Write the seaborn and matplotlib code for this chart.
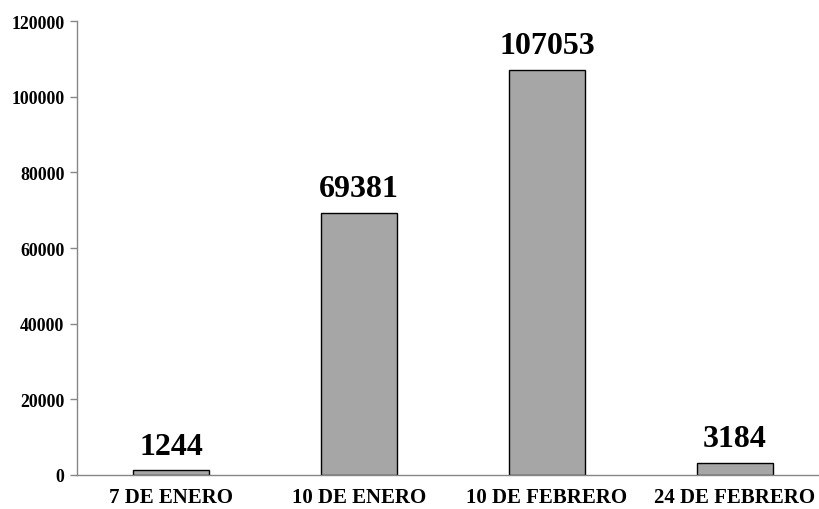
import matplotlib
matplotlib.use("Agg")
import matplotlib.pyplot as plt
import seaborn as sns
import numpy as np

categories = ["7 DE ENERO", "10 DE ENERO", "10 DE FEBRERO", "24 DE FEBRERO"]
values = [1244, 69381, 107053, 3184]
yticks = [0, 20000, 40000, 60000, 80000, 100000, 120000]

sns.set_style("white")
plt.rcParams['font.family'] = ['Liberation Serif', 'DejaVu Serif']
plt.rcParams['font.weight'] = 'bold'
plt.rcParams['text.color'] = 'black'
plt.rcParams['xtick.color'] = 'black'
plt.rcParams['ytick.color'] = 'black'

fig = plt.figure(figsize=(8.19, 5.10), dpi=100)
ax = fig.add_axes([77/819, 1 - 476/510, 752/819, 454/510])

sns.barplot(x=categories, y=values, color="#a6a6a6", edgecolor="black",
            linewidth=1.0, width=0.4, saturation=1, ax=ax)

ax.set_xlim(-0.5, 3.5)
ax.set_ylim(0, 120000)
ax.set_yticks(yticks)
ax.set_yticklabels([str(v) for v in yticks], fontsize=12.8, fontweight='bold', color='black')
ax.set_xticks(range(len(categories)))
ax.set_xticklabels(categories, fontsize=15, fontweight='bold', color='black')
ax.tick_params(axis='x', which='major', length=0, pad=9)
ax.set_xticks(np.arange(-0.5, 3.6, 1.0), minor=True)
ax.tick_params(axis='x', which='minor', length=6, width=1, color='#868686', direction='out')
ax.tick_params(axis='y', length=5, width=1, color='#868686', direction='out', left=True, pad=4)
ax.set_xlabel("")
ax.set_ylabel("")

for s in ['top', 'right']:
    ax.spines[s].set_visible(False)
for s in ['left', 'bottom']:
    ax.spines[s].set_color('#868686')
    ax.spines[s].set_linewidth(1.0)

for i, v in enumerate(values):
    ax.annotate(str(v), (i, v), xytext=(0, 7), textcoords='offset points',
                ha='center', va='bottom', fontsize=23, fontweight='bold', color='black')

fig.savefig("out.png", dpi=100)
